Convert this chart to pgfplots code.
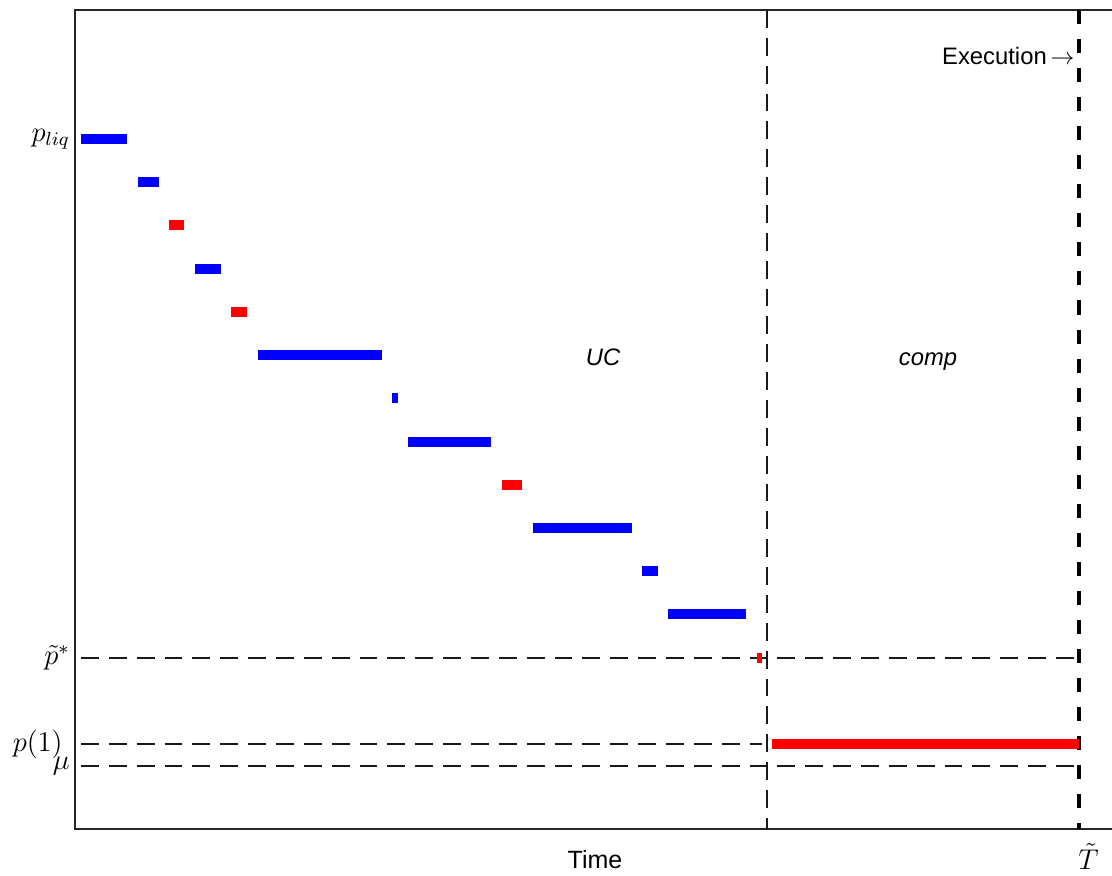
\documentclass[border=0pt]{standalone}
\usepackage{pgfplots}
\pgfplotsset{compat=1.18}
\usepackage{fontspec}
\setmainfont{Liberation Sans}
\begin{document}
\begin{tikzpicture}
\begin{axis}[
  x=0.42pt, y=0.42pt,
  xmin=75, xmax=1115, ymin=-829, ymax=-10,
  axis line style={line width=0.6pt, black!85},
  major tick length=0pt,
  xtick={1079}, xticklabels={$\tilde T$},
  ytick={-139,-658,-744,-766},
  yticklabels={$p_{liq}$,$\tilde p^{*}$,{$p(1)\kern3pt$},$\mu$},
  yticklabel style={inner xsep=2pt, font=\fontsize{11.5}{13}\selectfont},
  xticklabel style={xshift=4pt, yshift=-2.5pt, font=\fontsize{11.5}{13}\selectfont},
  xlabel={Time},
  every axis x label/.style={at={(rel axis cs:0.5,0)},anchor=north,yshift=-5.5pt,font=\fontsize{10.5}{12}\selectfont},
  unbounded coords=jump,
  clip=false,
]
% dashed reference lines
\addplot[black!90, line width=0.5pt, dash pattern=on 7.5pt off 4.2pt] coordinates {(81,-658) (1079,-658)};
\addplot[black!90, line width=0.5pt, dash pattern=on 7.5pt off 4.2pt] coordinates {(81,-744) (762,-744)};
\addplot[black!90, line width=0.5pt, dash pattern=on 7.5pt off 4.2pt] coordinates {(81,-766) (1079,-766)};
\addplot[black!90, line width=0.5pt, dash pattern=on 7.5pt off 4.2pt] coordinates {(767,-10) (767,-829)};
\addplot[black, line width=2pt, dash pattern=on 5.9pt off 6.3pt] coordinates {(1079,-10) (1079,-829)};
% blue bars
\addplot[blue, line width=4.2pt] coordinates {
(81,-139) (127,-139) (nan,nan)
(138,-182) (159,-182) (nan,nan)
(195,-269) (221,-269) (nan,nan)
(258,-355) (382,-355) (nan,nan)
(392,-398.5) (398,-398.5) (nan,nan)
(408,-442) (491,-442) (nan,nan)
(533,-528) (632,-528) (nan,nan)
(642,-571) (658,-571) (nan,nan)
(668,-614) (746,-614)
};
% red bars
\addplot[red, line width=4.2pt] coordinates {
(169,-225) (184,-225) (nan,nan)
(231,-312) (247,-312) (nan,nan)
(502,-485) (522,-485) (nan,nan)
(757,-658) (762,-658) (nan,nan)
(772,-744) (1079,-744)
};
\node[font=\itshape, anchor=base] at (axis cs:603,-366) {UC};
\node[font=\itshape, anchor=base] at (axis cs:928,-366) {comp};
\node[anchor=east, inner sep=0pt] at (axis cs:1075,-56) {Execution\,$\rightarrow$};
\coordinate (BL) at (axis cs:0,-876);
\coordinate (TR) at (axis cs:1112,0);
\end{axis}
\pgfresetboundingbox
\useasboundingbox (BL) rectangle (TR);
\end{tikzpicture}
\end{document}
